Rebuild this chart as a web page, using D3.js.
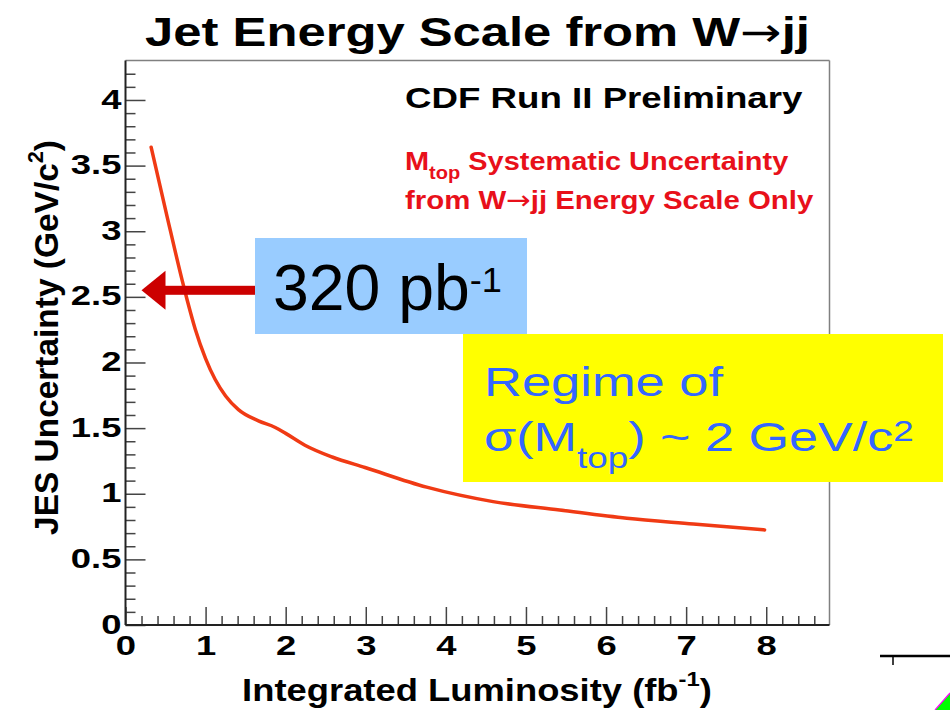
<!DOCTYPE html>
<html><head><meta charset="utf-8">
<script src="https://cdn.jsdelivr.net/npm/d3@7"></script>
<style>body{margin:0;background:#fff;} svg{display:block;}</style>
</head><body>
<svg id="chart" width="950" height="710"></svg>
<script>
// ---------- data ----------
const titleParts = ["Jet Energy Scale from W", "\u2192", "jj"];
const xTitleText = "Integrated Luminosity (fb";
const yTitleText = "JES Uncertainty (GeV/c";
const lumiFb = [0.32, 0.52, 0.71, 0.77, 0.87, 1.00, 1.12, 1.25, 1.41, 1.66, 1.87, 2.00, 2.24, 2.58, 2.99, 3.76, 4.59, 5.42, 6.26, 7.09, 7.98];
const jesUnc = [3.64, 3.11, 2.62, 2.476, 2.256, 2.03, 1.87, 1.745, 1.641, 1.555, 1.505, 1.46, 1.37, 1.28, 1.20, 1.05, 0.94, 0.876, 0.813, 0.77, 0.724];
const xMajorTicks = [0, 1, 2, 3, 4, 5, 6, 7, 8];
const xTickLabels = ["0", "1", "2", "3", "4", "5", "6", "7", "8"];
const yMajorTicks = [0, 0.5, 1, 1.5, 2, 2.5, 3, 3.5, 4];
const yTickLabels = ["0", "0.5", "1", "1.5", "2", "2.5", "3", "3.5", "4"];
const annotationValue = 2.55;   // JES uncertainty at 320 pb^-1
const annotationLabel = "320 pb";

// ---------- setup ----------
const svg = d3.select("#chart");
svg.append("rect").attr("width", 950).attr("height", 710).attr("fill", "#fff");
const FONT = "'Liberation Sans', Arial, Helvetica, sans-serif";
const ARROWFONT = "'DejaVu Sans', sans-serif";

const x = d3.scaleLinear().domain([0, 8.79]).range([125.5, 829.5]);
const y = d3.scaleLinear().domain([0, 4.3]).range([625, 60.6]);

function fitText(textSel, targetW) {
  const w = textSel.node().getBBox().width;
  textSel.attr("transform", `scale(${targetW / w},1)`);
}

// ---------- title ----------
{
  const g = svg.append("g").attr("transform", "translate(477.5,46)");
  const t = g.append("text").attr("text-anchor", "middle")
    .attr("font-family", FONT).attr("font-weight", "bold").attr("font-size", 41).attr("fill", "#000");
  t.append("tspan").text(titleParts[0]);
  t.append("tspan").attr("font-family", ARROWFONT).attr("font-weight", "normal").attr("font-size", 40).text(titleParts[1]);
  t.append("tspan").text(titleParts[2]);
  fitText(t, 665);
}

// ---------- frame ----------
svg.append("line").attr("x1", x(0)).attr("x2", x(8.79)).attr("y1", y(4.3)).attr("y2", y(4.3))
  .attr("stroke", "#808080").attr("stroke-width", 1.5);
svg.append("line").attr("x1", x(8.79)).attr("x2", x(8.79)).attr("y1", y(4.3)).attr("y2", y(0))
  .attr("stroke", "#808080").attr("stroke-width", 1.5);

// ---------- axes ----------
const yMinor = d3.range(0, 4.21, 0.1).map(v => +v.toFixed(1)).filter(v => !yMajorTicks.includes(v));
const xMinor = d3.range(0, 8.61, 0.2).map(v => +v.toFixed(1)).filter(v => !xMajorTicks.includes(v));

const yAxisMinor = svg.append("g").attr("transform", `translate(${x(0)},0)`)
  .call(d3.axisLeft(y).tickValues(yMinor).tickSize(-10).tickFormat(""));
const yAxis = svg.append("g").attr("transform", `translate(${x(0)},0)`)
  .call(d3.axisLeft(y).tickValues(yMajorTicks).tickSizeInner(-20).tickSizeOuter(0).tickPadding(4)
    .tickFormat((d, i) => yTickLabels[i]));
const xAxisMinor = svg.append("g").attr("transform", `translate(0,${y(0)})`)
  .call(d3.axisBottom(x).tickValues(xMinor).tickSize(-9).tickFormat(""));
const xAxis = svg.append("g").attr("transform", `translate(0,${y(0)})`)
  .call(d3.axisBottom(x).tickValues(xMajorTicks).tickSizeInner(-18).tickSizeOuter(0)
    .tickFormat((d, i) => xTickLabels[i]));

[yAxisMinor, yAxis, xAxisMinor, xAxis].forEach(a => {
  a.select(".domain").remove();
  a.selectAll(".tick line").attr("stroke", "#444").attr("stroke-width", 1.5);
});
const TSX = 1.35;
yAxis.selectAll(".tick text")
  .attr("font-family", FONT).attr("font-weight", "bold").attr("font-size", 27).attr("fill", "#000")
  .attr("x", -4 / TSX).attr("dy", "0.3em").attr("transform", `scale(${TSX},1)`);
xAxis.selectAll(".tick text")
  .attr("font-family", FONT).attr("font-weight", "bold").attr("font-size", 27).attr("fill", "#000")
  .attr("dy", null).attr("y", 30).attr("transform", `scale(${TSX},1)`);

// axis lines
svg.append("line").attr("x1", x(0)).attr("x2", x(0)).attr("y1", y(4.3)).attr("y2", y(0))
  .attr("stroke", "#222").attr("stroke-width", 2);
svg.append("line").attr("x1", x(0)).attr("x2", x(8.79)).attr("y1", y(0)).attr("y2", y(0))
  .attr("stroke", "#222").attr("stroke-width", 2);

// ---------- axis titles ----------
{
  const g = svg.append("g").attr("transform", "translate(477,701)");
  const t = g.append("text").attr("text-anchor", "middle")
    .attr("font-family", FONT).attr("font-weight", "bold").attr("font-size", 32).attr("fill", "#000");
  t.append("tspan").text(xTitleText);
  t.append("tspan").attr("font-size", 21).attr("dy", -15).text("-1");
  t.append("tspan").attr("dy", 15).text(")");
  fitText(t, 470);
}
{
  const g = svg.append("g").attr("transform", "translate(58,337.5) rotate(-90)");
  const t = g.append("text").attr("text-anchor", "middle")
    .attr("font-family", FONT).attr("font-weight", "bold").attr("font-size", 34).attr("fill", "#000");
  t.append("tspan").text(yTitleText);
  t.append("tspan").attr("font-size", 22).attr("dy", -15).text("2");
  t.append("tspan").attr("dy", 15).text(")");
  fitText(t, 395);
}

// ---------- in-plot texts ----------
{
  const g = svg.append("g").attr("transform", "translate(405,108)");
  const t = g.append("text").attr("font-family", FONT).attr("font-weight", "bold")
    .attr("font-size", 30).attr("fill", "#000").text("CDF Run II Preliminary");
  fitText(t, 398);
}
{
  const g = svg.append("g").attr("transform", "translate(405,170)");
  const t = g.append("text").attr("font-family", FONT).attr("font-weight", "bold")
    .attr("font-size", 26).attr("fill", "#e8101a");
  t.append("tspan").text("M");
  t.append("tspan").attr("font-size", 18).attr("dy", 9).text("top");
  t.append("tspan").attr("dy", -9).text(" Systematic Uncertainty");
  fitText(t, 384);
}
{
  const g = svg.append("g").attr("transform", "translate(405,209)");
  const t = g.append("text").attr("font-family", FONT).attr("font-weight", "bold")
    .attr("font-size", 26).attr("fill", "#e8101a");
  t.append("tspan").text("from W");
  t.append("tspan").attr("font-family", ARROWFONT).attr("font-weight", "normal").text("\u2192");
  t.append("tspan").text("jj Energy Scale Only");
  fitText(t, 409);
}

// ---------- curve ----------
const pts = lumiFb.map((v, i) => [v, jesUnc[i]]);
svg.append("path").datum(pts)
  .attr("fill", "none").attr("stroke", "#f03a14").attr("stroke-width", 3.5)
  .attr("stroke-linejoin", "round").attr("stroke-linecap", "round")
  .attr("d", d3.line().x(d => x(d[0])).y(d => y(d[1])).curve(d3.curveMonotoneX));

// ---------- annotations ----------
// blue box
svg.append("rect").attr("x", 255).attr("y", 238).attr("width", 272).attr("height", 96).attr("fill", "#99ccff");
{
  const g = svg.append("g").attr("transform", "translate(273,310)");
  const t = g.append("text").attr("font-family", FONT).attr("font-size", 64).attr("fill", "#000");
  t.append("tspan").text(annotationLabel);
  t.append("tspan").attr("font-size", 36).attr("dy", -18).text("-1");
  fitText(t, 229);
}
// arrow
{
  const ay = y(annotationValue);
  const ax = x(0) + 16;
  svg.append("rect").attr("x", ax + 23).attr("y", ay - 4.5).attr("width", 255 - (ax + 23)).attr("height", 9)
    .attr("fill", "#cc0000");
  svg.append("path")
    .attr("d", `M${ax},${ay} L${ax + 24},${ay - 19.5} L${ax + 24},${ay + 19.5} Z`)
    .attr("fill", "#cc0000");
}
// yellow box
svg.append("rect").attr("x", 463).attr("y", 334).attr("width", 480).attr("height", 148).attr("fill", "#ffff00");
{
  const g = svg.append("g").attr("transform", "translate(484,396)");
  const t = g.append("text").attr("font-family", FONT).attr("font-size", 41).attr("fill", "#3366ff").text("Regime of");
  fitText(t, 240);
}
{
  const g = svg.append("g").attr("transform", "translate(484,451)");
  const t = g.append("text").attr("font-family", FONT).attr("font-size", 41).attr("fill", "#3366ff");
  t.append("tspan").text("\u03c3(M");
  t.append("tspan").attr("font-size", 29).attr("dy", 17).text("top");
  t.append("tspan").attr("dy", -17).text(") ~ 2 GeV/c");
  t.append("tspan").attr("font-size", 29).attr("dy", -10).text("2");
  fitText(t, 430);
}

// ---------- corner decoration ----------
svg.append("line").attr("x1", 880).attr("x2", 950).attr("y1", 656).attr("y2", 656)
  .attr("stroke", "#000").attr("stroke-width", 2.5);
svg.append("line").attr("x1", 893).attr("x2", 893).attr("y1", 656).attr("y2", 665)
  .attr("stroke", "#000").attr("stroke-width", 1.5);
svg.append("path").attr("d", "M935,710 L950,693 L950,710 Z").attr("fill", "#00ff00");
svg.append("line").attr("x1", 935).attr("y1", 710).attr("x2", 950).attr("y2", 693)
  .attr("stroke", "#ff00ff").attr("stroke-width", 1.2);
</script>
</body></html>
